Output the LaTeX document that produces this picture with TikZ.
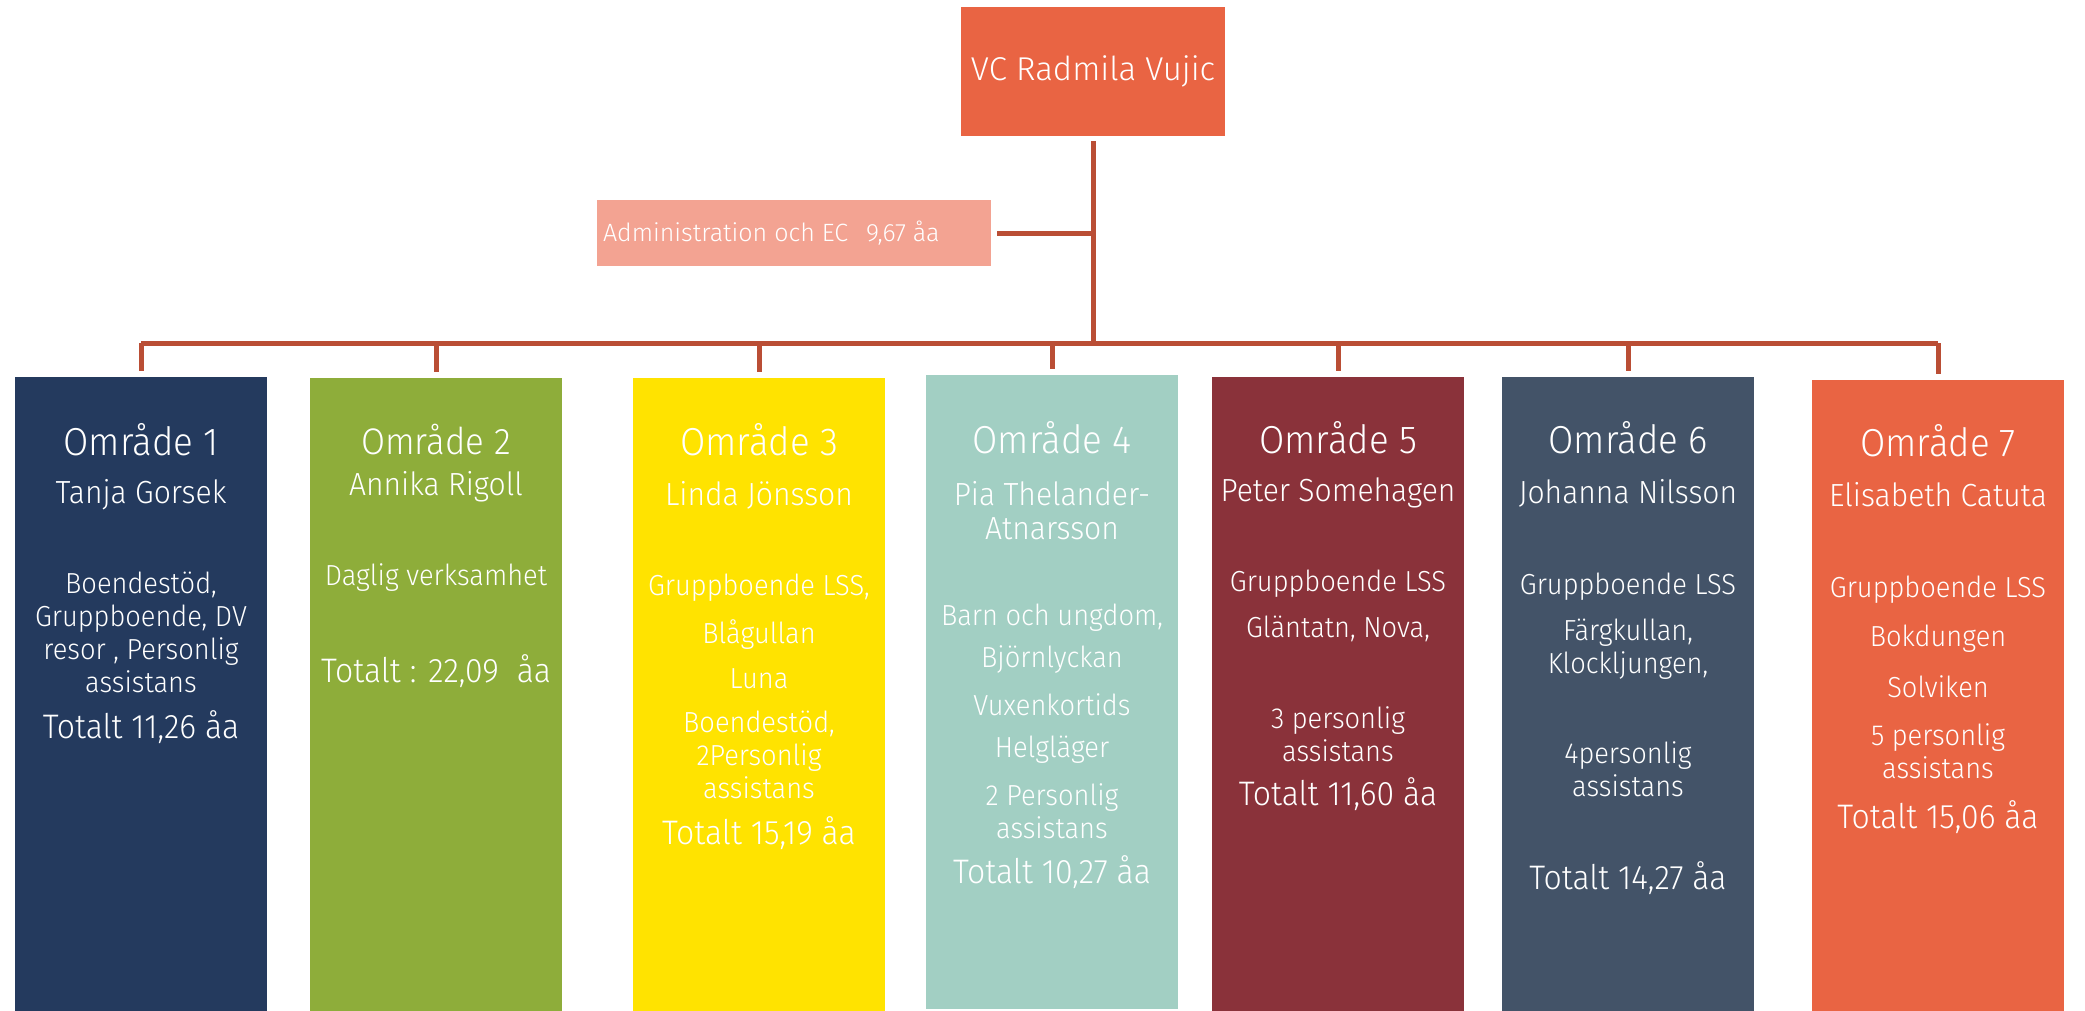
\documentclass[tikz,border=0pt]{standalone}
\usepackage{fontspec}
\IfFontExistsTF{Fira Sans Light}{%
  \setmainfont{Fira Sans Light}
  \newfontfamily\areafont{Fira Sans Light}[FakeStretch=0.94]}{%
  \setmainfont{Fira Sans}
  \newfontfamily\areafont{Fira Sans}[FakeStretch=0.94]}
\usetikzlibrary{calc}

\definecolor{vcred}{HTML}{E96443}
\definecolor{admrose}{HTML}{F3A392}
\definecolor{linebrown}{HTML}{BA4E35}
\definecolor{navy}{HTML}{243A5E}
\definecolor{olive}{HTML}{8EAD3A}
\definecolor{sun}{HTML}{FFE300}
\definecolor{sea}{HTML}{A2CFC3}
\definecolor{maroon}{HTML}{8A323A}
\definecolor{slate}{HTML}{435368}

\tikzset{
  areabox/.style={rectangle, anchor=north, inner sep=0pt, minimum width=252pt, minimum height=634pt},
  head/.style={text=white, font=\areafont\fontsize{39}{41}\selectfont},
  who/.style={text=white, align=center, font=\areafont\fontsize{32}{34}\selectfont},
  body/.style={text=white, align=center, font=\areafont\fontsize{29}{33}\selectfont},
  tot/.style={text=white, font=\areafont\fontsize{34}{36}\selectfont},
  orgline/.style={draw=linebrown, line width=5pt}
}

\begin{document}
\begin{tikzpicture}[x=1pt, y=-1pt]
\useasboundingbox (0,0) rectangle (2085,1010);

\node[rectangle, fill=vcred, minimum width=264pt, minimum height=129pt, text=white,
  font=\fontsize{33}{35}\selectfont] (vc) at (1093,71.5) {VC Radmila Vujic};
\node[rectangle, fill=admrose, minimum width=394pt, minimum height=66pt] (admin) at (794,233) {};
\node[anchor=west, text=white, font=\fontsize{25}{27}\selectfont, inner sep=0pt] (admtxt)
  at ([xshift=6pt]admin.west) {Administration och EC\hspace{18pt}9,67 åa};

\node[areabox, fill=navy] (a1) at (141,377) {};
\node[areabox, fill=olive] (a2) at (436,378) {};
\node[areabox, fill=sun] (a3) at (759,378) {};
\node[areabox, fill=sea] (a4) at (1052,375) {};
\node[areabox, fill=maroon] (a5) at (1338,377) {};
\node[areabox, fill=slate] (a6) at (1628,377) {};
\node[areabox, fill=vcred] (a7) at (1938,380) {};

\coordinate (bus) at (1093,343);
\draw[orgline] ([yshift=-5pt]vc.south) -- (bus);
\draw[orgline] ([xshift=6pt]admin.east) -- (admin.east -| vc.south);
\draw[orgline] (a1.north |- bus) -- (a7.north |- bus);
\foreach \n in {a1,a2,a3,a4,a5,a6,a7}
  \draw[orgline] (\n.north |- bus) -- ([yshift=6pt]\n.north);

% Område 1
\node[head] (h1) at (141,440) {Område 1};
\node[who] (w1) at (141,495) {Tanja Gorsek};
\node[body] (b1) at (141,632) {Boendestöd,\\Gruppboende, DV\\resor , Personlig\\assistans};
\node[tot] (t1) at (141,727) {Totalt 11,26 åa};

% Område 2
\node[head, font=\areafont\fontsize{37}{39}\selectfont] (h2) at (436,440) {Område 2};
\node[who] (w2) at (436,487) {Annika Rigoll};
\node[body] (b2) at (436,578) {Daglig verksamhet};
\node[tot] (t2) at (436,671) {Totalt : 22,09\ \ åa};

% Område 3
\node[head] (h3) at (759,440) {Område 3};
\node[who] (w3) at (759,495) {Linda Jönsson};
\node[body] (b3a) at (759,588) {Gruppboende LSS,};
\node[body] (b3b) at (759,635) {Blågullan};
\node[body] (b3c) at (759,679) {Luna};
\node[body] (b3d) at (759,755) {Boendestöd,\\2Personlig\\assistans};
\node[tot] (t3) at (759,833) {Totalt 15,19 åa};

% Område 4
\node[head] (h4) at (1052,438) {Område 4};
\node[who] (w4) at (1052,511) {Pia Thelander-\\Atnarsson};
\node[body] (b4a) at (1052,618) {Barn och ungdom,};
\node[body] (b4b) at (1052,660) {Björnlyckan};
\node[body] (b4c) at (1052,705) {Vuxenkortids};
\node[body] (b4d) at (1052,750) {Helgläger};
\node[body] (b4e) at (1052,811) {2 Personlig\\assistans};
\node[tot] (t4) at (1052,872) {Totalt 10,27 åa};

% Område 5
\node[head] (h5) at (1338,438) {Område 5};
\node[who] (w5) at (1338,493) {Peter Somehagen};
\node[body] (b5a) at (1338,584) {Gruppboende LSS};
\node[body] (b5b) at (1338,629) {Gläntatn, Nova,};
\node[body] (b5c) at (1338,734) {3 personlig\\assistans};
\node[tot] (t5) at (1338,794) {Totalt 11,60 åa};

% Område 6
\node[head] (h6) at (1628,438) {Område 6};
\node[who] (w6) at (1628,493) {Johanna Nilsson};
\node[body] (b6a) at (1628,587) {Gruppboende LSS};
\node[body] (b6b) at (1628,649) {Färgkullan,\\Klockljungen,};
\node[body] (b6c) at (1628,769) {4personlig\\assistans};
\node[tot] (t6) at (1628,878) {Totalt 14,27 åa};

% Område 7
\node[head] (h7) at (1938,441) {Område 7};
\node[who] (w7) at (1938,495) {Elisabeth Catuta};
\node[body] (b7a) at (1938,590) {Gruppboende LSS};
\node[body] (b7b) at (1938,639) {Bokdungen};
\node[body] (b7c) at (1938,687) {Solviken};
\node[body] (b7d) at (1938,751) {5 personlig\\assistans};
\node[tot] (t7) at (1938,817) {Totalt 15,06 åa};

\end{tikzpicture}
\end{document}
